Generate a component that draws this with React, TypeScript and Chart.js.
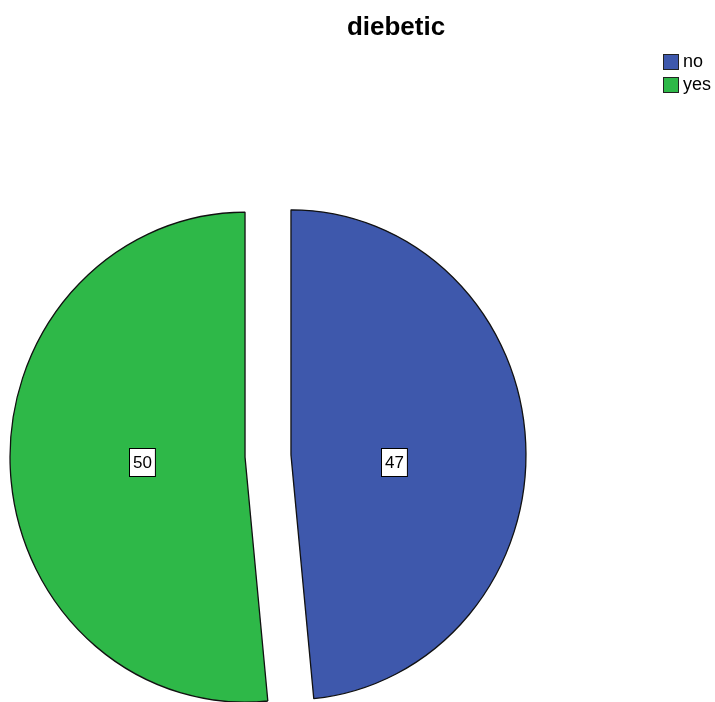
import React, { useEffect, useRef } from "react";
import { Chart, registerables } from "chart.js";

Chart.register(...registerables);

const chartTitle = "diebetic";
const categories = ["no", "yes"];
const counts = [47, 50];
const sliceColors = ["#3E58AC", "#2EB848"];

const FONT = '"Liberation Sans", Arial, Helvetica, sans-serif';
const SCALE_Y = 245 / 235;
const EXPLODE = 23;
const PIE_RADIUS = 235;

// draws the pie as a slightly tall ellipse, each slice pushed out along its bisector
const explodePlugin = {
  id: "explode",
  beforeDatasetsDraw(chart: any) {
    const { ctx, chartArea } = chart;
    const cy = (chartArea.top + chartArea.bottom) / 2;
    const meta = chart.getDatasetMeta(0);
    meta.data.forEach((arc: any) => {
      if (arc.__wrapped) return;
      const orig = arc.draw.bind(arc);
      arc.draw = (c: CanvasRenderingContext2D) => {
        const mid = (arc.startAngle + arc.endAngle) / 2;
        c.save();
        c.translate(Math.cos(mid) * EXPLODE, Math.sin(mid) * EXPLODE);
        orig(c);
        c.restore();
      };
      arc.__wrapped = true;
    });
    ctx.save();
    ctx.translate(0, cy);
    ctx.scale(1, SCALE_Y);
    ctx.translate(0, -cy);
  },
  afterDatasetsDraw(chart: any) {
    chart.ctx.restore();
  },
};

const decorPlugin = {
  id: "decor",
  afterDraw(chart: any) {
    const ctx = chart.ctx as CanvasRenderingContext2D;
    ctx.save();
    // title
    ctx.fillStyle = "#000";
    ctx.font = `bold 26px ${FONT}`;
    ctx.textAlign = "center";
    ctx.textBaseline = "alphabetic";
    ctx.fillText(chartTitle, 396, 35);

    // legend
    categories.forEach((c, i) => {
      const bx = 663.5;
      const by = 54.5 + i * 23;
      ctx.fillStyle = sliceColors[i];
      ctx.fillRect(bx, by, 15, 15);
      ctx.strokeStyle = "#222";
      ctx.lineWidth = 1;
      ctx.strokeRect(bx, by, 15, 15);
      ctx.fillStyle = "#000";
      ctx.font = `18px ${FONT}`;
      ctx.textAlign = "left";
      ctx.textBaseline = "middle";
      ctx.fillText(c, 683, by + 8);
    });

    // value labels
    const meta = chart.getDatasetMeta(0);
    meta.data.forEach((arc: any, i: number) => {
      const mid = (arc.startAngle + arc.endAngle) / 2;
      const t = EXPLODE + 0.44 * arc.outerRadius;
      const x = arc.x + Math.cos(mid) * t;
      const y = arc.y + 6;
      const txt = String(counts[i]);
      ctx.font = `17px ${FONT}`;
      const w = ctx.measureText(txt).width + 7;
      const h = 28;
      const left = Math.round(x - w / 2) + 0.5;
      const top = Math.round(y - h / 2) + 0.5;
      ctx.fillStyle = "#fff";
      ctx.fillRect(left, top, w, h);
      ctx.strokeStyle = "#000";
      ctx.lineWidth = 1;
      ctx.strokeRect(left, top, w, h);
      ctx.fillStyle = "#000";
      ctx.textAlign = "center";
      ctx.textBaseline = "middle";
      ctx.fillText(txt, left + w / 2, top + h / 2 + 1);
    });
    ctx.restore();
  },
};

export default function App() {
  const ref = useRef<HTMLCanvasElement | null>(null);

  useEffect(() => {
    if (!ref.current) return;
    const chart = new Chart(ref.current, {
      type: "pie",
      data: {
        labels: categories,
        datasets: [
          {
            data: counts,
            backgroundColor: sliceColors,
            borderColor: "#111",
            borderWidth: 1.3,
            offset: 0,
            radius: PIE_RADIUS,
          } as any,
        ],
      },
      options: {
        animation: false,
        responsive: true,
        maintainAspectRatio: false,
        layout: { padding: { left: 0, right: 179, top: 210, bottom: 0 } },
        plugins: {
          legend: { display: false },
          title: { display: false },
          tooltip: { enabled: false },
        },
      } as any,
      plugins: [explodePlugin, decorPlugin],
    });
    return () => chart.destroy();
  }, []);

  return (
    <div
      style={{
        position: "fixed",
        left: 0,
        top: 0,
        width: 715,
        height: 702,
        background: "#fff",
      }}
    >
      <canvas ref={ref} />
    </div>
  );
}
